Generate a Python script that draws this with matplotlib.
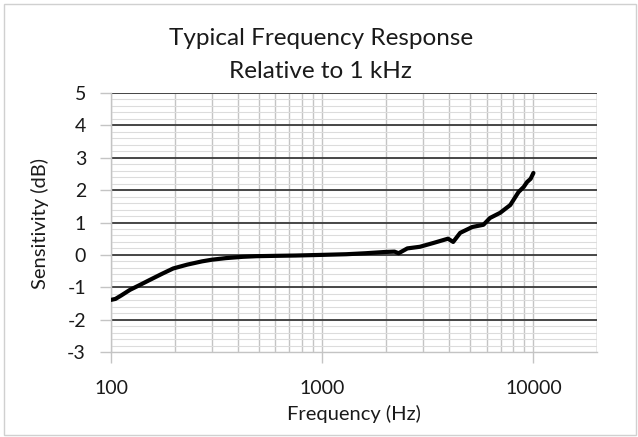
import numpy as np
import matplotlib
matplotlib.use('Agg')
import matplotlib.pyplot as plt
from matplotlib.ticker import FixedLocator, NullFormatter, FixedFormatter
from matplotlib.patches import Rectangle

plt.rcParams['font.family'] = ['Lato', 'DejaVu Sans']

# Frequency response
freq = [100, 105, 112, 123, 135, 153, 175, 197, 230, 270, 300, 350, 420, 490,
        600, 750, 1000, 1300, 1600, 1990, 2200, 2300, 2530, 2900, 3370, 3940,
        4170, 4500, 5130, 5800, 6230, 6960, 7770, 8500, 9000, 9330, 9700, 10000]
sens = [-1.39, -1.36, -1.25, -1.08, -0.95, -0.77, -0.58, -0.42, -0.30, -0.20,
        -0.15, -0.10, -0.06, -0.04, -0.03, -0.02, 0.0, 0.02, 0.05, 0.09, 0.10,
        0.05, 0.20, 0.25, 0.37, 0.50, 0.40, 0.68, 0.86, 0.93, 1.14, 1.30, 1.54,
        1.94, 2.10, 2.25, 2.35, 2.53]

y_major = [-3, -2, -1, 0, 1, 2, 3, 4, 5]
x_labels = ['100', '1000', '10000']
x_label_pos = [100, 1000, 10000]

fig = plt.figure(figsize=(6.38, 4.37), dpi=100)
fig.patches.append(Rectangle((4 / 638, 2 / 437), 632 / 638, 431 / 437,
                             transform=fig.transFigure, fill=False,
                             edgecolor='#d0d0d0', linewidth=1))
ax = fig.add_axes([111 / 638, 85 / 437, 486 / 638, 259 / 437])

ax.set_xscale('log')
ax.set_xlim(100, 20000)
ax.set_ylim(-3, 5)

# vertical grid at every 1-2-..-9 step
xgrid = [m * 10 ** e for e in (2, 3, 4) for m in range(1, 10)] + [20000]
for xv in xgrid:
    ax.axvline(xv, color='#c4c4c4', linewidth=1, zorder=1)
ygrid_minor = np.arange(-3, 5.01, 0.2)
for yv in ygrid_minor:
    ax.axhline(yv, color='#dcdcdc', linewidth=0.8, zorder=1)
for yv in y_major[1:]:
    ax.axhline(yv, color='#3a3a3a', linewidth=1.3, zorder=2)

ax.plot(freq, sens, color='black', linewidth=3, zorder=4,
        solid_joinstyle='round', solid_capstyle='round')

for s in ['top', 'right']:
    ax.spines[s].set_visible(False)
for s in ['left', 'bottom']:
    ax.spines[s].set_color('#c4c4c4')
    ax.spines[s].set_linewidth(1)
    ax.spines[s].set_zorder(3)

ax.xaxis.set_major_locator(FixedLocator(x_label_pos))
ax.xaxis.set_major_formatter(FixedFormatter(x_labels))
ax.xaxis.set_minor_locator(FixedLocator([]))
ax.xaxis.set_minor_formatter(NullFormatter())
ax.set_yticks(y_major)
ax.set_yticklabels([str(v) for v in y_major])
ax.tick_params(axis='x', direction='out', length=8, width=1, color='#c4c4c4',
               pad=12, labelsize=14, labelcolor='#1a1a1a')
ax.tick_params(axis='y', direction='out', length=8, width=1, color='#c4c4c4',
               pad=10, labelsize=14, labelcolor='#1a1a1a')

ax.set_xlabel('Frequency (Hz)', fontsize=14.5, color='#1a1a1a', va='center')
ax.xaxis.set_label_coords(0.5, -0.239)
ax.set_ylabel('Sensitivity (dB)', fontsize=14.5, color='#1a1a1a',
              va='center', ha='center')
ax.yaxis.set_label_coords(-0.146, 0.498)

fig.text(0.503, 1 - 45 / 437, 'Typical Frequency Response', ha='center',
         va='baseline', fontsize=17.5, color='#1a1a1a')
fig.text(0.503, 1 - 78 / 437, 'Relative to 1 kHz', ha='center',
         va='baseline', fontsize=17.5, color='#1a1a1a')

fig.savefig('out.png', dpi=100, facecolor='white')
